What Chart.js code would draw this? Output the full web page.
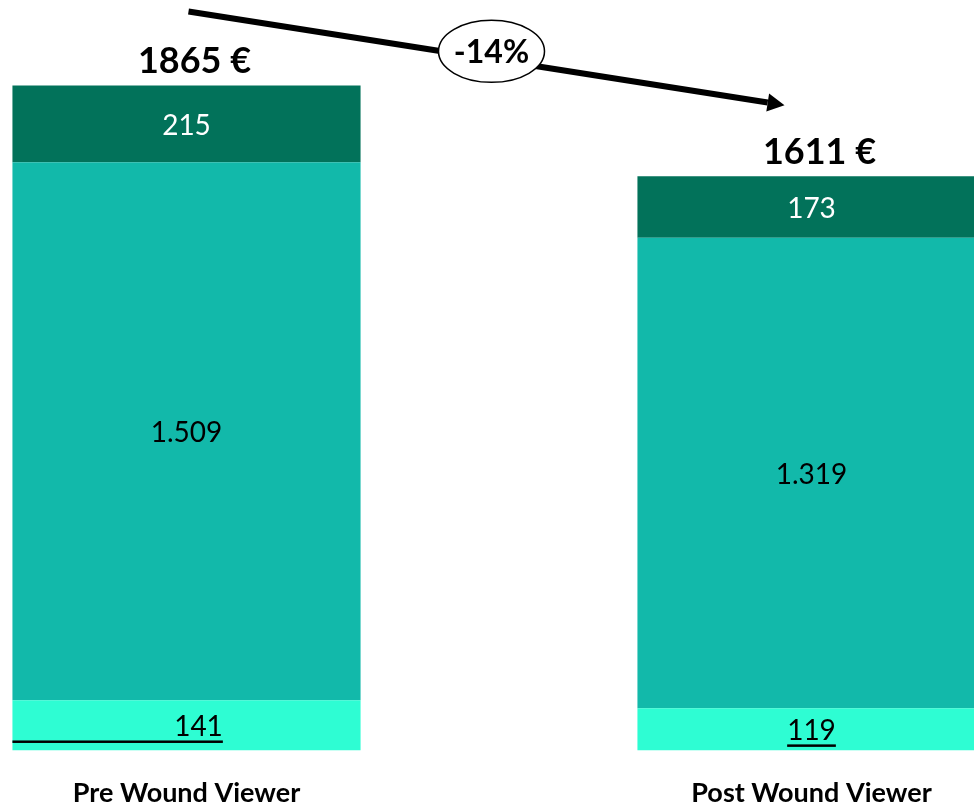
<!DOCTYPE html>
<html>
<head>
<meta charset="utf-8">
<script src="https://cdn.jsdelivr.net/npm/chart.js@4.4.1/dist/chart.umd.min.js"></script>
<style>
html, body { margin: 0; padding: 0; overflow: hidden; background: #fff; width: 974px; height: 807px; }
#wrap { position: absolute; left: -126px; top: 0; width: 1250px; height: 835px; }
</style>
</head>
<body>
<div id="wrap"><canvas id="costChart"></canvas></div>
<script>
var categories = ['Pre Wound Viewer', 'Post Wound Viewer'];
var bottomValues = [141, 119];
var middleValues = [1509, 1319];
var topValues = [215, 173];
var totals = [1865, 1611];
var changeLabel = '-14%';

var FONT = 'Lato, "Open Sans", sans-serif';

function fmt(v) {
    return String(v).replace(/\B(?=(\d{3})+(?!\d))/g, '.');
}

// segment labels, totals and the arrow with the % bubble
var annotations = {
    id: 'annotations',
    afterDatasetsDraw: function (chart) {
        var ctx = chart.ctx;
        ctx.save();
        ctx.textAlign = 'center';
        ctx.textBaseline = 'middle';

        chart.data.datasets.forEach(function (ds, di) {
            var meta = chart.getDatasetMeta(di);
            meta.data.forEach(function (bar, i) {
                var cy = (bar.y + bar.base) / 2;
                var txt = fmt(ds.data[i]);
                var cx = bar.x;
                ctx.font = '28px ' + FONT;
                ctx.fillStyle = ds.labelColor;
                if (di === 0 && i === 0) cx += 12;
                ctx.fillText(txt, cx, cy + 2);
                if (ds.underline) {
                    var w = ctx.measureText(txt).width;
                    var x0 = i === 0 ? bar.x - bar.width / 2 : cx - w / 2;
                    ctx.fillStyle = '#000';
                    ctx.fillRect(x0, cy + 15, cx + w / 2 - x0, 2.5);
                }
            });
        });

        // totals above the stacks
        var topMeta = chart.getDatasetMeta(chart.data.datasets.length - 1);
        ctx.font = 'bold 36px ' + FONT;
        ctx.fillStyle = '#000';
        topMeta.data.forEach(function (bar, i) {
            ctx.fillText(totals[i] + ' €', bar.x + 8, bar.y - 24);
        });

        // arrow between the two totals
        var b0 = topMeta.data[0], b1 = topMeta.data[1];
        var x1 = b0.x + 2, y1 = b0.y - 74;
        var x2 = b1.x - 27, y2 = b1.y - 71;
        var ang = Math.atan2(y2 - y1, x2 - x1);
        var head = 17;
        ctx.strokeStyle = '#000';
        ctx.lineWidth = 6;
        ctx.beginPath();
        ctx.moveTo(x1, y1);
        ctx.lineTo(x2 - head * Math.cos(ang), y2 - head * Math.sin(ang));
        ctx.stroke();
        ctx.fillStyle = '#000';
        ctx.beginPath();
        ctx.moveTo(x2, y2);
        ctx.lineTo(x2 - head * Math.cos(ang) + 9 * Math.sin(ang), y2 - head * Math.sin(ang) - 9 * Math.cos(ang));
        ctx.lineTo(x2 - head * Math.cos(ang) - 9 * Math.sin(ang), y2 - head * Math.sin(ang) + 9 * Math.cos(ang));
        ctx.closePath();
        ctx.fill();

        var ex = (x1 + x2) / 2 + 5, ey = (y1 + y2) / 2 - 7;
        ctx.beginPath();
        ctx.ellipse(ex, ey, 53, 31, 0, 0, Math.PI * 2);
        ctx.fillStyle = '#fff';
        ctx.fill();
        ctx.lineWidth = 1.5;
        ctx.stroke();
        ctx.fillStyle = '#000';
        ctx.font = 'bold 32px ' + FONT;
        ctx.fillText(changeLabel, ex, ey + 1);

        ctx.restore();
    }
};

var ctx = document.getElementById('costChart').getContext('2d');

var myChart = new Chart(ctx, {
    type: 'bar',
    data: {
        labels: categories,
        datasets: [{
            data: bottomValues,
            backgroundColor: '#2EFDD3',
            labelColor: '#000',
            underline: true
        }, {
            data: middleValues,
            backgroundColor: '#12B9AA',
            labelColor: '#000'
        }, {
            data: topValues,
            backgroundColor: '#02725A',
            labelColor: '#fff'
        }]
    },
    options: {
        responsive: true,
        maintainAspectRatio: false,
        animation: false,
        layout: { padding: 0 },
        datasets: {
            bar: { categoryPercentage: 1, barPercentage: 0.557, borderWidth: 0 }
        },
        plugins: {
            legend: { display: false },
            tooltip: { enabled: false }
        },
        scales: {
            x: {
                stacked: true,
                grid: { display: false, drawTicks: false },
                border: { display: false },
                ticks: {
                    color: '#000',
                    padding: 26,
                    font: { family: FONT, size: 27, weight: 'bold' }
                }
            },
            y: {
                stacked: true,
                display: false,
                min: 0,
                max: 2105
            }
        }
    },
    plugins: [annotations]
});
</script>
</body>
</html>
